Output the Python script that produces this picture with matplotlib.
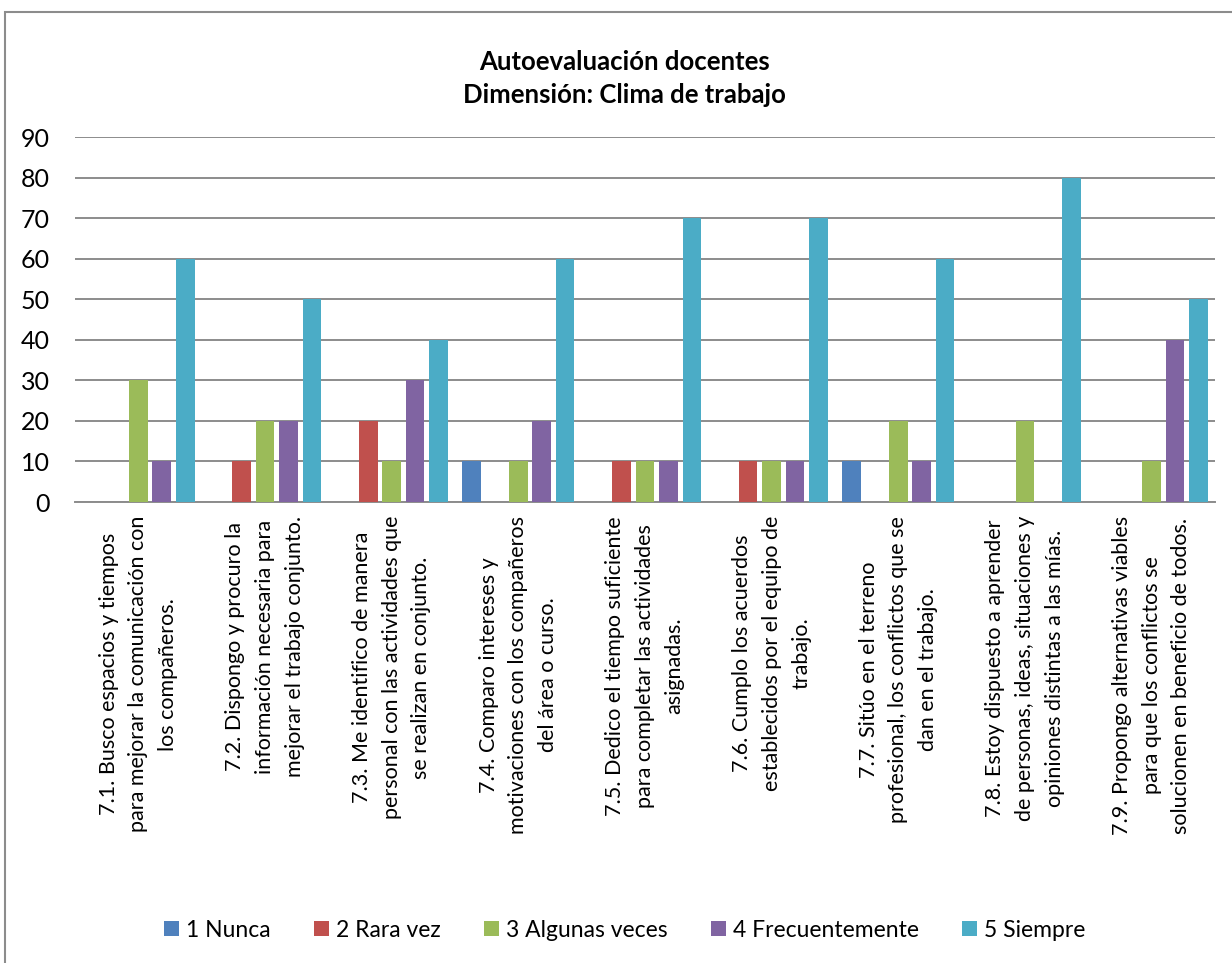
import numpy as np
import matplotlib.pyplot as plt
from matplotlib.patches import Rectangle

plt.rcParams['font.family'] = ['Lato', 'DejaVu Sans']

categorias = [
    "7.1. Busco espacios y tiempos\npara mejorar la comunicación con\nlos compañeros.",
    "7.2. Dispongo y procuro la\ninformación necesaria para\nmejorar el trabajo conjunto.",
    "7.3. Me identifico de manera\npersonal con las actividades que\nse realizan en conjunto.",
    "7.4. Comparo intereses y\nmotivaciones con los compañeros\ndel área o curso.",
    "7.5. Dedico el tiempo suficiente\npara completar las actividades\nasignadas.",
    "7.6. Cumplo los acuerdos\nestablecidos por el equipo de\ntrabajo.",
    "7.7. Sitúo en el terreno\nprofesional, los conflictos que se\ndan en el trabajo.",
    "7.8. Estoy dispuesto a aprender\nde personas, ideas, situaciones y\nopiniones distintas a las mías.",
    "7.9. Propongo alternativas viables\npara que los conflictos se\nsolucionen en beneficio de todos.",
]
series = ["1 Nunca", "2 Rara vez", "3 Algunas veces", "4 Frecuentemente", "5 Siempre"]
nunca = [0, 0, 0, 10, 0, 0, 10, 0, 0]
rara_vez = [0, 10, 20, 0, 10, 10, 0, 0, 0]
algunas = [30, 20, 10, 10, 10, 10, 20, 20, 10]
frecuente = [10, 20, 30, 20, 10, 10, 10, 0, 40]
siempre = [60, 50, 40, 60, 70, 70, 60, 80, 50]
valores = [nunca, rara_vez, algunas, frecuente, siempre]
colores = ['#4F81BD', '#C0504D', '#9BBB59', '#8064A2', '#4BACC6']

fig = plt.figure(figsize=(12.32, 9.63), dpi=100)
ax = fig.add_axes([0.0609, 0.4787, 0.9252, 0.379])

x = np.arange(len(categorias))
paso = 0.185
ancho = 0.147
for i, (nombre, vals, c) in enumerate(zip(series, valores, colores)):
    ax.bar(x + (i - 2) * paso, vals, ancho, color=c, label=nombre, zorder=3)

ax.set_xlim(-0.5, 8.5)
ax.set_ylim(0, 90)
ax.set_yticks(range(0, 91, 10))
ax.yaxis.grid(True, color='#8c8c8c', linewidth=1.4, zorder=0)
ax.tick_params(axis='y', length=0, labelsize=18, pad=18)
ax.set_xticks(x)
ax.set_xticklabels(categorias, rotation=90, ha='center', va='top',
                   multialignment='center', fontsize=15.5, linespacing=1.6)
ax.tick_params(axis='x', length=0, pad=10)
for s in ['top', 'right', 'left']:
    ax.spines[s].set_visible(False)
ax.spines['bottom'].set_color('#8c8c8c')
ax.spines['bottom'].set_linewidth(1.4)

fig.text(0.507, 0.919, "Autoevaluación docentes\nDimensión: Clima de trabajo",
         ha='center', va='center', fontsize=18.5, fontweight='bold',
         linespacing=1.45)

fig.legend(*ax.get_legend_handles_labels(), loc='center', ncol=5,
           bbox_to_anchor=(0.507, 0.034), frameon=False, fontsize=16.5,
           handlelength=0.65, handleheight=0.65, handletextpad=0.3,
           columnspacing=1.9)

fig.patches.append(Rectangle((5 / 1232, -0.05), 1.1, (963 - 12) / 963 + 0.05,
                             transform=fig.transFigure, fill=False,
                             edgecolor='#8c8c8c', linewidth=1.5))

plt.savefig('out.png', dpi=100)
